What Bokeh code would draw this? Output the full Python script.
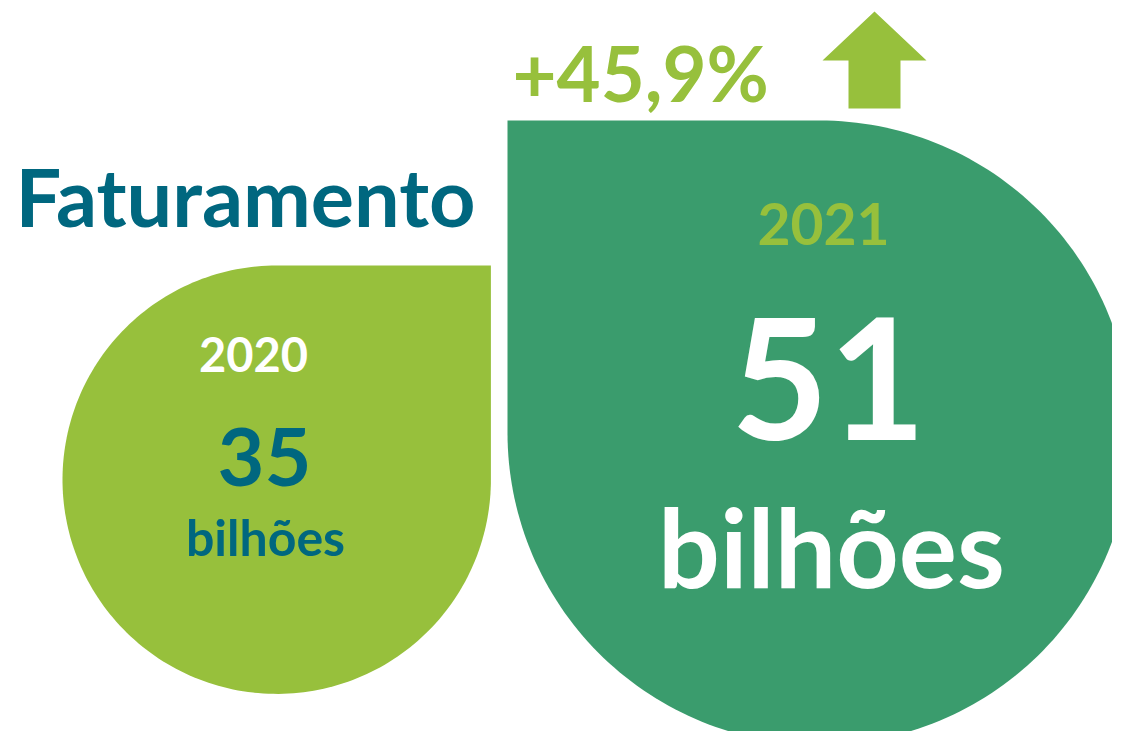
import numpy as np
from bokeh.plotting import figure
from bokeh.models import Range1d
from bokeh.core.properties import value
from bokeh.embed import file_html
from bokeh.resources import INLINE

# ---- data ----
title = "Faturamento"
years = ["2020", "2021"]
revenue = [35, 51]          # R$ bilhões
unit = "bilhões"
growth = "+45,9%"

# ---- style ----
LIGHT = "#97C03C"
DARK = "#3A9C6D"
TEAL = "#00677F"
FONT = "Lato"

W, H = 1112, 731
p = figure(width=W, height=H, output_backend="svg", toolbar_location=None,
           x_range=Range1d(0, W), y_range=Range1d(H, 0),
           min_border=0, outline_line_color=None)
p.axis.visible = False
p.grid.visible = False
p.background_fill_color = "white"
p.border_fill_color = "white"

px_per_unit = 6.12  # radius in px per billion


def drop(cx, cy, r, corner):
    # circle with one square quadrant (screen coords, y down)
    if corner == "tr":
        t = np.linspace(np.pi / 2, 2 * np.pi, 200)
        cxr, cyr = cx + r, cy - r
    else:
        t = np.linspace(np.pi, 2.5 * np.pi, 200)
        cxr, cyr = cx - r, cy - r
    xs = list(cx + r * np.cos(t)) + [cxr]
    ys = list(cy - r * np.sin(t)) + [cyr]
    return xs, ys


r0 = revenue[0] * px_per_unit
r1 = revenue[1] * px_per_unit
c0 = (62 + r0, 265 + r0)
c1 = (507 + r1, 120 + r1)

xs, ys = drop(c0[0], c0[1], r0, "tr")
p.patch(xs, ys, fill_color=LIGHT, line_color=None)
xs, ys = drop(c1[0], c1[1], r1, "tl")
p.patch(xs, ys, fill_color=DARK, line_color=None)

# arrow
ax, ay = 874, 11
arrow_x = [ax, ax + 52, ax + 26, ax + 26, ax - 26, ax - 26, ax - 52]
arrow_y = [ay, ay + 49, ay + 49, ay + 97, ay + 97, ay + 49, ay + 49]
p.patch(arrow_x, arrow_y, fill_color=LIGHT, line_color=None)


def txt(x, baseline, s, size, color, align="center"):
    p.text(x=[x], y=[baseline - 0.375 * size], text=[s], text_font=value(FONT),
           text_font_style="bold", text_font_size=f"{size}px", text_color=color,
           text_align=align, text_baseline="alphabetic")


txt(15, 225, title, 81, TEAL, "left")
txt(512, 100, growth, 76, LIGHT, "left")

# 2020
txt(253, 372, years[0], 47, "white")
txt(264, 487, str(revenue[0]), 81, TEAL)
txt(265, 555, unit, 50, TEAL)

# 2021
txt(823, 245, years[1], 57, LIGHT)
txt(828, 441, str(revenue[1]), 168, "white")
txt(831, 586, unit, 109, "white")

open("out.html", "w").write(file_html(p, INLINE))
